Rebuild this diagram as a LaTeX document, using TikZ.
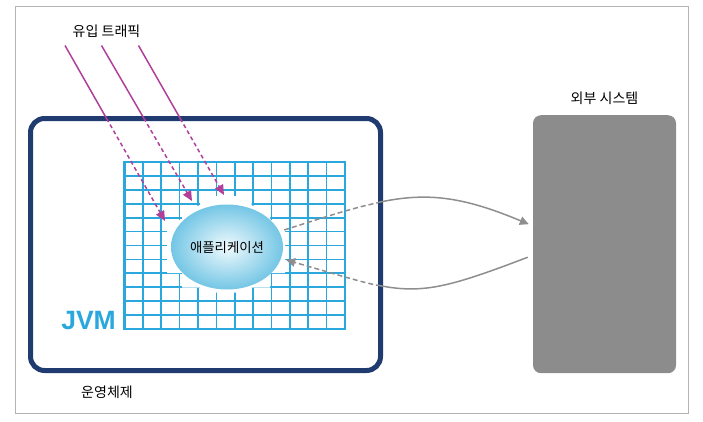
\documentclass[tikz,border=0pt]{standalone}
\usepackage{fontspec}
\newfontfamily\kr{Noto Sans CJK KR}
\newfontfamily\jvmfont{Liberation Sans}
\usetikzlibrary{arrows.meta,shapes.geometric}
\definecolor{navy}{HTML}{1F3B70}
\definecolor{jvmblue}{HTML}{2AA7DC}
\definecolor{mag}{HTML}{B0409A}
\definecolor{arrgray}{HTML}{8E8E8E}
\definecolor{extgray}{HTML}{8C8C8C}
\definecolor{framegray}{HTML}{B4B4B4}
\definecolor{appout}{HTML}{74C6E5}
\definecolor{appin}{HTML}{F0FAFD}
\begin{document}
\begin{tikzpicture}[x=1pt,y=-1pt,
  lbl/.style={font=\kr\fontsize{14}{16}\selectfont, inner sep=0pt},
  gridline/.style={draw=jvmblue, line width=1.7pt},
  gridborder/.style={draw=jvmblue, line width=2.6pt},
  trafficline/.style={draw=mag, line width=1.5pt},
  trafficdash/.style={trafficline, dash pattern=on 4pt off 3pt, -{Triangle[length=10pt,width=9pt]}},
  callline/.style={draw=arrgray, line width=1.5pt},
  calldash/.style={callline, dash pattern=on 5pt off 3pt},
  calltip/.style={-{Triangle[length=9pt,width=8.5pt]}}
]
\useasboundingbox (0,0) rectangle (703,421);
% outer frame
\draw[framegray, line width=1pt] (15,6) rectangle (688,413);

% operating system box
\node[draw=navy, line width=5pt, rounded corners=14pt, minimum width=350pt, minimum height=252pt, inner sep=0pt] (os) at (205.5,244.5) {};

% external system
\node[fill=extgray, rounded corners=8pt, minimum width=143pt, minimum height=258pt, inner sep=0pt] (ext) at (604.5,244.2) {};

% JVM grid
\foreach \i in {1,...,11} \draw[gridline] ({124.5+\i*18.375},162) -- ({124.5+\i*18.375},329);
\foreach \j in {1,...,11} \draw[gridline] (124.5,{162+\j*13.917}) -- (345,{162+\j*13.917});
\draw[gridborder] (124.5,162) rectangle (345,329);
% cleared area around the application
\fill[white] (200,196) -- (251.5,196) -- (251.5,205.5) -- (270,205.5) -- (270,220) -- (285,220)
  -- (285,273) -- (270,273) -- (270,287.5) -- (251.5,287.5) -- (251.5,292.5) -- (200,292.5)
  -- (200,287.5) -- (182,287.5) -- (182,273) -- (167,273) -- (167,220) -- (182,220)
  -- (182,205.5) -- (200,205.5) -- cycle;

% application
\node[ellipse, minimum width=112pt, minimum height=85pt, inner sep=0pt,
  shading=radial, inner color=appin, outer color=appout] (app) at (227,247) {};
\node[lbl, font=\kr\fontsize{13.4}{15}\selectfont] (applbl) at (227,247.5) {애플리케이션};

% JVM label
\node[anchor=base east, inner sep=0pt, text=jvmblue, font=\jvmfont\bfseries\fontsize{26.5}{29}\selectfont] (jvm) at (116,329.5) {JVM};

% labels
\node[lbl] (traffic) at (106.5,31.5) {유입 트래픽};
\node[lbl] (extlbl) at (604.5,98.5) {외부 시스템};
\node[lbl] (oslbl) at (107,392.5) {운영체제};

% incoming traffic
\coordinate (t1s) at (65,45.5);   \coordinate (t1e) at (165,221);
\coordinate (t2s) at (101.5,45.5); \coordinate (t2e) at (192,201);
\coordinate (t3s) at (138.5,45.5); \coordinate (t3e) at (224,195);
\begin{scope}
  \clip (0,0) rectangle (703,119);
  \draw[trafficline] (t1s) -- (t1e);
  \draw[trafficline] (t2s) -- (t2e);
  \draw[trafficline] (t3s) -- (t3e);
\end{scope}
\begin{scope}
  \clip (0,119) rectangle (703,421);
  \draw[trafficdash] (t1s) -- (t1e);
  \draw[trafficdash] (t2s) -- (t2e);
  \draw[trafficdash] (t3s) -- (t3e);
\end{scope}

% calls to the external system
\begin{scope}
  \clip (0,0) rectangle (378,421);
  \draw[calldash] ([shift={(1,-17)}]app.east) .. controls (394,195) and (428,182) .. ([shift={(-4,-20)}]ext.west);
  \draw[calldash, calltip] ([shift={(-5,13)}]ext.west) .. controls (408,303) and (409,295) .. ([shift={(3,13)}]app.east);
\end{scope}
\begin{scope}
  \clip (378,0) rectangle (703,421);
  \draw[callline, calltip] ([shift={(1,-17)}]app.east) .. controls (394,195) and (428,182) .. ([shift={(-4,-20)}]ext.west);
  \draw[callline] ([shift={(-5,13)}]ext.west) .. controls (408,303) and (409,295) .. ([shift={(3,13)}]app.east);
\end{scope}
\end{tikzpicture}
\end{document}
